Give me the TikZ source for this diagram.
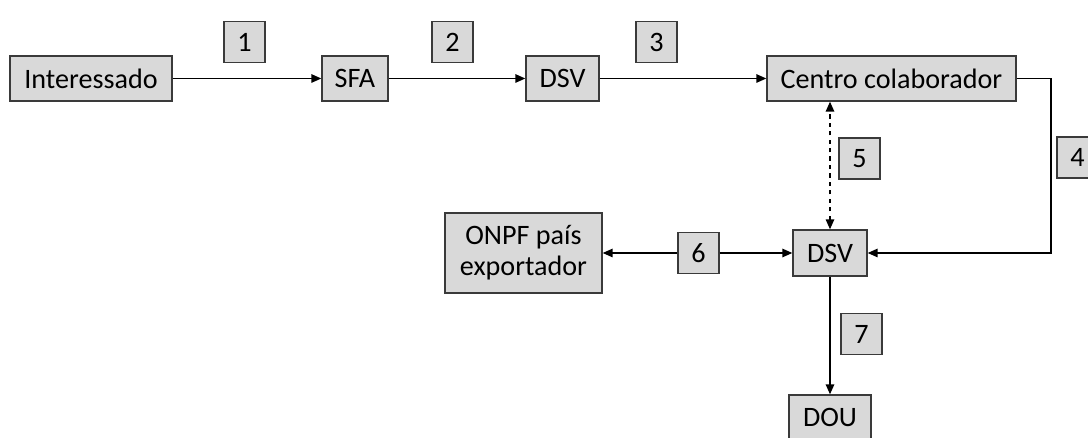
\documentclass[tikz,border=0pt]{standalone}
\usepackage{fontspec}
\setmainfont{Carlito}
\usetikzlibrary{arrows.meta}
\definecolor{boxgray}{HTML}{D9D9D9}
\definecolor{edgegray}{HTML}{3A3A3A}

\begin{document}
\begin{tikzpicture}[x=0.025cm, y=0.025cm,
    every node/.style={font=\fontsize{20}{22}\selectfont},
    block/.style={draw=edgegray, line width=1pt, fill=boxgray, inner sep=0pt,
        minimum height=1.125cm},
    numbox/.style={block, minimum width=1.025cm, minimum height=1.025cm},
    arr/.style={-{Triangle[length=7pt,width=6pt]}, line width=0.9pt},
    biarr/.style={{Triangle[length=7pt,width=6pt]}-{Triangle[length=7pt,width=6pt]}, line width=0.9pt}]

\useasboundingbox (0, 0) rectangle (1088, 438);

% Top row
\node[block, minimum width=4.05cm] (int) at (91, 359.5) {Interessado};
\node[block, minimum width=1.65cm] (sfa) at (355, 359.5) {SFA};
\node[block, minimum width=1.825cm] (dsva) at (562.5, 359.5) {DSV};
\node[block, minimum width=6.225cm] (cc) at (891.5, 359.5) {Centro colaborador};

% Step numbers
\node[numbox] (n1) at (244.5, 396) {1};
\node[numbox] (n2) at (452.5, 396) {2};
\node[numbox] (n3) at (656.5, 396) {3};
\node[numbox] (n4) at (1077.5, 280.5) {4};
\node[numbox] (n5) at (859.5, 279.5) {5};
\node[numbox] (n6) at (698.5, 185) {6};
\node[numbox] (n7) at (861.5, 104) {7};

% Lower part
\node[block, minimum width=1.85cm, minimum height=1.15cm] (dsvb) at (830, 185) {DSV};
\node[block, minimum width=3.925cm, minimum height=2cm, align=center] (onpf) at (523.5, 185) {ONPF país\\exportador};
\node[block, minimum width=2.05cm] (dou) at (830, 20.5) {DOU};

% Connectors
\draw[arr] (int) -- (sfa);
\draw[arr] (sfa) -- (dsva);
\draw[arr] (dsva) -- (cc);
\coordinate (turn) at (1051, 359.5);
\draw[arr] (cc.east) -- (turn) |- (dsvb.east);
\draw[biarr, dashed] (dsvb.north) -- (dsvb.north |- cc.south);
\draw[arr] (n6.west) -- (onpf.east);
\draw[arr] (n6.east) -- (dsvb.west);
\draw[arr] (dsvb) -- (dou);

\end{tikzpicture}
\end{document}
